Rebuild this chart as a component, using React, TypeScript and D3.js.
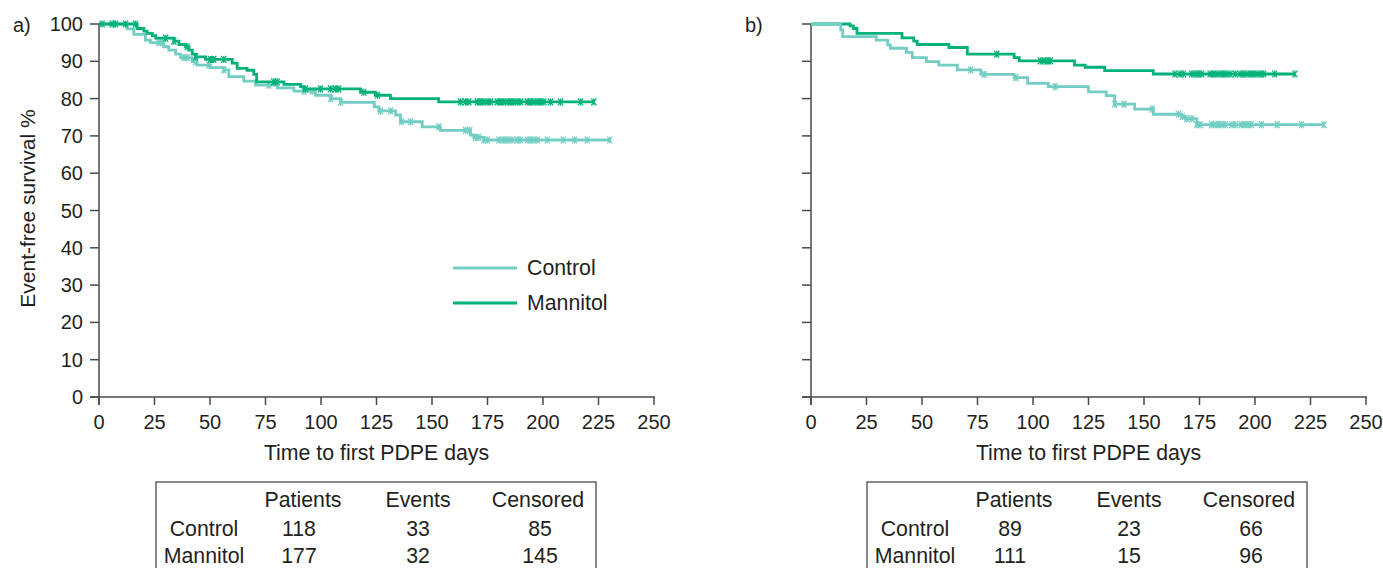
import React from "react";
import * as d3 from "d3";

// ---------- data ----------
const xTicks = [0, 25, 50, 75, 100, 125, 150, 175, 200, 225, 250];
const yTicks = [0, 10, 20, 30, 40, 50, 60, 70, 80, 90, 100];

// Panel a – Control
const aControlTimes = [0, 12.7, 15.7, 20.9, 23.2, 29.2, 31.4, 34.5, 36.7, 42.0, 44.2, 50.2, 56.2, 58.5, 65.2, 70.5, 80.3, 87.8, 97.5, 104.3, 108.8, 124.0, 126.0, 133.6, 135.8, 145.6, 153.8, 167.3, 168.8, 173.3];
const aControlSurv = [100, 98.7, 97.2, 95.7, 95.0, 93.9, 93.0, 91.9, 91.0, 89.9, 89.0, 88.3, 87.7, 85.9, 84.7, 83.6, 82.9, 82.0, 80.9, 80.0, 79.0, 77.8, 76.7, 75.6, 73.8, 72.4, 71.5, 70.2, 69.6, 68.9];
const aControlEnd = 230.4;
const aControlCensor = [26.9, 28.5, 38.2, 39.7, 43.5, 49.5, 56.2, 76.5, 92.3, 96, 104.3, 108.8, 126.8, 131.3, 136.3, 140.3, 153, 165.1, 167, 169.6, 171.1, 173.3, 174.9, 180.1, 181.6, 183.1, 184.6, 186.1, 188.4, 189.9, 192.9, 194.4, 195.9, 197.4, 201.9, 209.1, 214.2, 219.9, 230.1];

// Panel a – Mannitol
const aMannitolTimes = [0, 17.2, 20.2, 21.7, 24.0, 25.5, 33.7, 36.0, 39.0, 40.5, 42.0, 43.5, 48.0, 60.0, 62.2, 66.7, 69.7, 71.0, 83.3, 90.8, 92.3, 117.8, 124.5, 131.3, 153.0];
const aMannitolSurv = [100, 98.8, 98.1, 97.5, 96.9, 96.2, 95.4, 94.5, 93.9, 93.0, 91.9, 91.2, 90.5, 89.5, 88.1, 87.6, 86.5, 84.5, 83.8, 83.2, 82.6, 81.7, 80.9, 80.0, 79.1];
const aMannitolEnd = 223;
const aMannitolCensor = [1.4, 5.9, 7.4, 11.9, 16.4, 30, 33.7, 39.7, 43.5, 50.2, 51.7, 56.2, 78.7, 80.3, 93, 99.8, 104.3, 106.5, 108, 119.3, 125.5, 162.8, 165.1, 166.6, 170.4, 171.8, 173.3, 174.9, 176.4, 179.4, 180.9, 182.3, 183.9, 185.4, 186.8, 188.4, 189.9, 192.9, 194.4, 195.9, 197.4, 198.9, 200.4, 203.4, 207.9, 216.9, 222.9];

// Panel b – Control
const bControlTimes = [0, 13.4, 14.3, 29.4, 34.5, 35.7, 43.0, 45.6, 52.0, 57.6, 65.9, 76.5, 91.5, 97.6, 106.9, 125.0, 133.0, 136.8, 145.8, 154.2, 167.0, 168.5, 173.8];
const bControlSurv = [100, 98.4, 96.6, 95.7, 94.4, 93.5, 92.4, 91.0, 89.9, 89.0, 87.7, 86.5, 85.6, 84.1, 83.2, 81.8, 80.8, 78.5, 77.2, 75.8, 75.2, 74.6, 73.0];
const bControlEnd = 231.1;
const bControlCensor = [71.9, 78, 92.3, 110, 136.8, 141, 153.7, 165.5, 167.3, 169.2, 171.5, 173.8, 175.3, 180.5, 182, 183.6, 185.1, 186.6, 189.6, 191.1, 193.8, 195.4, 196.9, 198.3, 202.9, 210, 221, 231.1];

// Panel b – Mannitol
const bMannitolTimes = [0, 17.6, 19.1, 20.7, 41.0, 46.3, 47.8, 62.1, 70.4, 91.5, 93.8, 118.7, 123.5, 132.3, 154.2];
const bMannitolSurv = [100, 99.5, 98.8, 97.5, 96.3, 95.4, 94.5, 93.7, 91.9, 91.0, 90.1, 89.0, 88.4, 87.5, 86.6];
const bMannitolEnd = 218;
const bMannitolCensor = [83.7, 103.3, 105, 106.5, 107.9, 163.9, 166.2, 167.7, 171.5, 173, 174.5, 176, 179.8, 181.3, 182.8, 184.3, 185.8, 187.3, 188.8, 191.1, 193.3, 194.9, 196.4, 197.9, 199.4, 200.9, 202.4, 203.9, 208.9, 218];

// Tables
const tableHeaders = ["Patients", "Events", "Censored"];
const groupNames = ["Control", "Mannitol"];
const aTable = [[118, 33, 85], [177, 32, 145]];
const bTable = [[89, 23, 66], [111, 15, 96]];

// ---------- styles ----------
const CONTROL = "#72cec3";
const MANNITOL = "#00b279";
const TEXT = "#231f20";
const AXIS = "#4a4a4a";
const FONT = "'Liberation Sans', Arial, Helvetica, sans-serif";
const FS = 20;
const FS_BIG = 21.3;

type Series = { times: number[]; surv: number[]; end: number; censor: number[]; color: string };

function survAt(times: number[], surv: number[], t: number) {
  let v = surv[0];
  for (let i = 0; i < times.length; i++) if (times[i] <= t + 1e-9) v = surv[i];
  return v;
}

function Panel({ x0, label, labelX, showYLabels, series, table, legend, tableLeft }: {
  x0: number; label: string; labelX: number; showYLabels: boolean; series: Series[]; table: number[][]; legend: boolean; tableLeft: number;
}) {
  const x = d3.scaleLinear().domain([0, 250]).range([x0, x0 + 555]);
  const y = d3.scaleLinear().domain([0, 100]).range([397, 24]);
  const line = d3.line<[number, number]>().x(d => x(d[0])).y(d => y(d[1])).curve(d3.curveStepAfter);
  const xMid = x(125);
  const colHead = [147, 262, 382];
  const colVal = [143, 262, 384];
  return (
    <g>
      <text x={labelX} y={32} fontSize={FS} fill={TEXT}>{label}</text>
      {/* axes */}
      <line x1={x0 - 9} x2={x(250) + 1} y1={y(0)} y2={y(0)} stroke={AXIS} strokeWidth={1.5} />
      <line x1={x0} x2={x0} y1={y(100)} y2={y(0) + 8} stroke={AXIS} strokeWidth={1.5} />
      {yTicks.map(t => (
        <g key={"y" + t}>
          <line x1={x0 - 9} x2={x0} y1={y(t)} y2={y(t)} stroke={AXIS} strokeWidth={1.5} />
          {showYLabels && (
            <text x={x0 - 16} y={y(t)} dy="0.35em" textAnchor="end" fontSize={FS} fill={TEXT}>{t}</text>
          )}
        </g>
      ))}
      {xTicks.map(t => (
        <g key={"x" + t}>
          <line x1={x(t)} x2={x(t)} y1={y(0)} y2={y(0) + 8} stroke={AXIS} strokeWidth={1.5} />
          <text x={x(t)} y={429} textAnchor="middle" fontSize={FS} fill={TEXT}>{t}</text>
        </g>
      ))}
      <text x={xMid} y={460} textAnchor="middle" fontSize={FS_BIG} fill={TEXT}>Time to first PDPE days</text>
      {showYLabels && (
        <text transform={`translate(35,${y(50) - 2}) rotate(-90)`} textAnchor="middle" fontSize={FS_BIG - 0.3} fill={TEXT}>Event-free survival %</text>
      )}
      {/* curves */}
      {series.map((s, i) => {
        const pts: [number, number][] = s.times.map((t, j) => [t, s.surv[j]] as [number, number]);
        pts.push([s.end, s.surv[s.surv.length - 1]]);
        return (
          <g key={"s" + i}>
            <path d={line(pts) || ""} fill="none" stroke={s.color} strokeWidth={2.8} />
            {s.censor.map((c, k) => {
              const cx = x(c);
              const cy = y(survAt(s.times, s.surv, c));
              return (
                <path key={k} d={`M${cx - 2.5},${cy - 3.5}L${cx + 2.5},${cy + 3.5}M${cx + 2.5},${cy - 3.5}L${cx - 2.5},${cy + 3.5}M${cx},${cy - 3.5}L${cx},${cy + 3.5}`}
                  stroke={s.color} strokeWidth={1.2} fill="none" />
              );
            })}
          </g>
        );
      })}
      {legend && (
        <g>
          <line x1={453} x2={517} y1={268} y2={268} stroke={CONTROL} strokeWidth={2.8} />
          <text x={527} y={268} dy="0.35em" fontSize={FS_BIG} fill={TEXT}>Control</text>
          <line x1={453} x2={517} y1={303} y2={303} stroke={MANNITOL} strokeWidth={2.8} />
          <text x={527} y={303} dy="0.35em" fontSize={FS_BIG} fill={TEXT}>Mannitol</text>
        </g>
      )}
      {/* table */}
      <rect x={tableLeft} y={482} width={440} height={120} fill="none" stroke={AXIS} strokeWidth={1.3} />
      {tableHeaders.map((h, i) => (
        <text key={h} x={tableLeft + colHead[i]} y={507} textAnchor="middle" fontSize={FS_BIG} fill={TEXT}>{h}</text>
      ))}
      {groupNames.map((g, r) => (
        <g key={g}>
          <text x={tableLeft + 48} y={536 + r * 27} textAnchor="middle" fontSize={FS_BIG} fill={TEXT}>{g}</text>
          {table[r].map((v, c) => (
            <text key={c} x={tableLeft + colVal[c]} y={536 + r * 27} textAnchor="middle" fontSize={FS_BIG} fill={TEXT}>{v}</text>
          ))}
        </g>
      ))}
    </g>
  );
}

export default function App() {
  const aSeries: Series[] = [
    { times: aControlTimes, surv: aControlSurv, end: aControlEnd, censor: aControlCensor, color: CONTROL },
    { times: aMannitolTimes, surv: aMannitolSurv, end: aMannitolEnd, censor: aMannitolCensor, color: MANNITOL },
  ];
  const bSeries: Series[] = [
    { times: bMannitolTimes, surv: bMannitolSurv, end: bMannitolEnd, censor: bMannitolCensor, color: MANNITOL },
    { times: bControlTimes, surv: bControlSurv, end: bControlEnd, censor: bControlCensor, color: CONTROL },
  ];
  return (
    <svg width={1383} height={568} style={{ position: "absolute", left: 0, top: 0, background: "#fff" }} fontFamily={FONT}>
      <rect width={1383} height={568} fill="#fff" />
      <Panel x0={99} label="a)" labelX={13} showYLabels={true} series={aSeries} table={aTable} legend={true} tableLeft={156} />
      <Panel x0={811} label="b)" labelX={745} showYLabels={false} series={bSeries} table={bTable} legend={false} tableLeft={867} />
    </svg>
  );
}
